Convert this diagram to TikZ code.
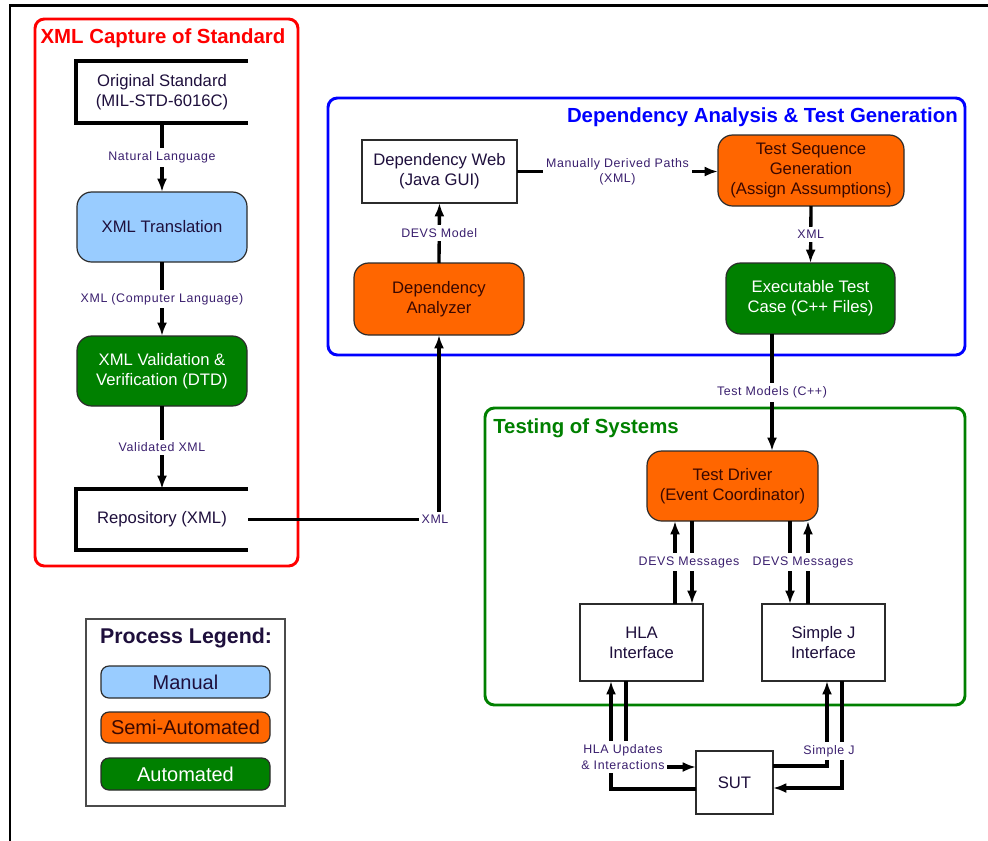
\documentclass[tikz,border=0pt]{standalone}
\usepackage{fontspec}
\setmainfont{Liberation Sans}
\newfontfamily\lblfont[LetterSpace=5]{Liberation Sans}
\usetikzlibrary{arrows.meta,fit,calc}

\definecolor{manualfill}{HTML}{99CCFF}
\definecolor{semifill}{HTML}{FF6600}
\definecolor{autofill}{HTML}{008000}
\definecolor{capred}{HTML}{FF0000}
\definecolor{depblue}{HTML}{0000FF}
\definecolor{testgreen}{HTML}{008000}
\definecolor{ink}{HTML}{1E0F3C}
\definecolor{lblink}{HTML}{3A1F6E}
\definecolor{semiink}{HTML}{3A0800}
\definecolor{edge}{HTML}{2B2B2B}

\tikzset{
  px/.style={x=0.75pt,y=-0.75pt},
  sz/.style 2 args={minimum width=#1*0.75pt, minimum height=#2*0.75pt},
  maintext/.style={font=\fontsize{12.5}{15}\selectfont, text=ink, align=center},
  fitbox/.style={inner sep=0pt, outer sep=0pt},
  manualbox/.style={fitbox, maintext, fill=manualfill, draw=edge, line width=0.9pt, rounded corners=11pt},
  semibox/.style={fitbox, maintext, text=semiink, fill=semifill, draw=edge, line width=0.9pt, rounded corners=11pt},
  autobox/.style={fitbox, maintext, text=white, fill=autofill, draw=edge, line width=0.9pt, rounded corners=11pt},
  plainbox/.style={fitbox, maintext, fill=white, draw=edge, line width=1.2pt},
  openbox/.style={fitbox, maintext},
  openside/.style={line width=2.7pt},
  grouptitle/.style={font=\bfseries\fontsize{15.3}{18}\selectfont, inner sep=0pt},
  groupframe/.style={fitbox, line width=2.2pt, rounded corners=7pt},
  conn/.style={line width=2.5pt, draw=black},
  arr/.style={conn, -{Latex[length=10pt,width=7.5pt]}},
  lbl/.style={font=\lblfont\fontsize{9.3}{11}\selectfont, text=lblink, fill=white,
              inner xsep=2pt, inner ysep=2.5pt, align=center},
  legendbox/.style={rounded corners=6pt, font=\fontsize{15}{18}\selectfont},
}

\begin{document}
\begin{tikzpicture}[px]
\useasboundingbox (0,0) rectangle (988,840);

% page frame (top and left rules)
\draw[line width=1.8pt] (10,850) -- (10,5.5) -- (995,5.5);

% ---- group frames and titles
\node[groupframe, draw=capred, fit={(35,19) (298,566)}] (capframe) {};
\node[grouptitle, text=capred] (captitle) at (163,38) {XML Capture of Standard};
\node[groupframe, draw=depblue, fit={(328,98) (965,355)}] (depframe) {};
\node[grouptitle, text=depblue, anchor=east] (deptitle) at (958,117) {Dependency Analysis \& Test Generation};
\node[groupframe, draw=testgreen, fit={(485,408) (965,705)}] (testframe) {};
\node[grouptitle, text=testgreen, anchor=west] (testtitle) at (493,428) {Testing of Systems};

% ---- XML capture column
\node[openbox, sz={172}{62}] (orig) at (162,92) {Original Standard\\(MIL-STD-6016C)};
\draw[openside] (orig.north east) -- (orig.north west) -- (orig.south west) -- (orig.south east);
\node[manualbox, sz={170}{70}] (xlat) at (162,227) {XML Translation};
\node[autobox, sz={170}{70}] (valid) at (162,371) {XML Validation \&\\Verification (DTD)};
\node[openbox, sz={172}{61}] (repo) at (162,519.5) {Repository (XML)};
\draw[openside] (repo.north east) -- (repo.north west) -- (repo.south west) -- (repo.south east);

% ---- dependency analysis and test generation
\node[plainbox, sz={155}{63}] (web) at (439.5,171.5) {Dependency Web\\(Java GUI)};
\node[semibox, sz={170}{72}] (analyzer) at (439,299) {Dependency\\Analyzer};
\node[semibox, sz={186}{71}] (seqgen) at (811,170.5) {Test Sequence\\Generation\\(Assign Assumptions)};
\node[autobox, sz={169}{71}] (exec) at (810.5,298.5) {Executable Test\\Case (C++ Files)};

% ---- testing of systems
\node[semibox, sz={171}{70}] (driver) at (732.5,486) {Test Driver\\(Event Coordinator)};
\node[plainbox, sz={123}{77}] (hla) at (641.5,642.5) {HLA\\Interface};
\node[plainbox, sz={123}{77}] (sj) at (823.5,642.5) {Simple J\\Interface};
\node[plainbox, sz={77}{63}] (sut) at (734.5,782.5) {SUT};

% ---- legend
\node[fitbox, draw=edge!85, line width=1.1pt, sz={199}{187}] (legend) at (185.5,712.5) {};
\node[font=\bfseries\fontsize{16}{19}\selectfont, text=ink] (legendtitle) at (186,638) {Process Legend:};
\node[manualbox, legendbox, sz={169}{32}] (lgmanual) at (185.5,682) {Manual};
\node[semibox, legendbox, sz={169}{31}] (lgsemi) at (185.5,727.5) {Semi-Automated};
\node[autobox, legendbox, sz={169}{32}] (lgauto) at (185.5,774) {Automated};

% ---- connectors: capture chain
\draw[arr] (orig.south) -- node[lbl]{Natural Language} (xlat.north);
\draw[arr] (xlat.south) -- node[lbl]{XML (Computer Language)} (valid.north);
\draw[arr] (valid.south) -- node[lbl]{Validated XML} (repo.north);
\draw[arr] (repo.east) -| node[lbl, pos=0.5, xshift=-3pt]{XML} (analyzer.south);

% ---- connectors: analysis and generation
\draw[arr] (analyzer.north) -- node[lbl]{DEVS Model} (web.south);
\draw[arr] (web.east) -- node[lbl]{Manually Derived Paths\\(XML)} (web.east -| seqgen.west);
\draw[arr] (seqgen.south) -- node[lbl]{XML} (exec.north);
\coordinate (tmx) at (772,0);
\draw[arr] (exec.south -| tmx) -- node[lbl]{Test Models (C++)} (driver.north -| tmx);

% ---- connectors: driver and interfaces
\coordinate (hup) at (675,0);
\coordinate (hdn) at (692,0);
\coordinate (jdn) at (790,0);
\coordinate (jupx) at (808,0);
\draw[arr] (hla.north -| hup) -- (driver.south -| hup);
\draw[arr] (driver.south -| hdn) -- (hla.north -| hdn)
  node[lbl] (devsl) at (689,562) {DEVS Messages};
\draw[arr] (driver.south -| jdn) -- (sj.north -| jdn);
\draw[arr] (sj.north -| jupx) -- (driver.south -| jupx)
  node[lbl] (devsr) at (803,562) {DEVS Messages};

% ---- connectors: interfaces and system under test
\coordinate (hin) at (611,789);
\coordinate (hout) at (626,767);
\coordinate (jin) at (842,788);
\coordinate (jout) at (827,766);
\draw[arr] (sut.west |- hin) -| (hla.south -| hin);
\draw[arr] (hla.south -| hout) |- (sut.west |- hout)
  node[lbl, font=\lblfont\fontsize{9.3}{12.5}\selectfont] (hlal) at (623,757) {HLA Updates\\\& Interactions};
\draw[arr] (sut.east |- jout) -| (sj.south -| jout);
\draw[arr] (sj.south -| jin) |- (sut.east |- jin)
  node[lbl] (sjl) at (829,751) {Simple J};
\end{tikzpicture}
\end{document}
